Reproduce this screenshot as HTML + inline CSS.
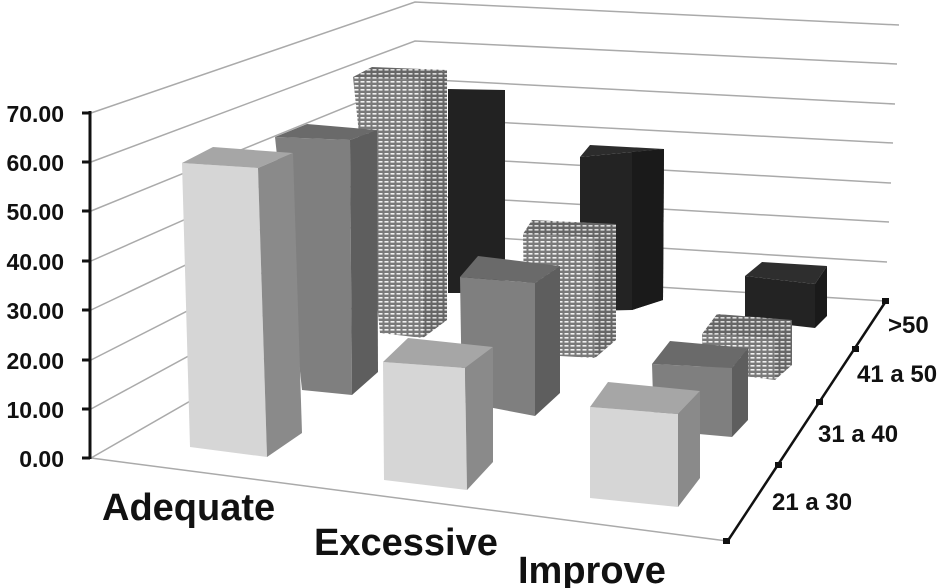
<!DOCTYPE html>
<html><head><meta charset="utf-8"><style>
html,body{margin:0;padding:0;background:#fff;width:943px;height:588px;overflow:hidden}
svg{display:block}
text{font-family:"Liberation Sans",Arial,sans-serif;font-weight:bold;fill:#111}
</style></head><body>
<svg width="943" height="588" viewBox="0 0 943 588" xmlns="http://www.w3.org/2000/svg">
<defs>
<pattern id="pt" width="6" height="4" patternUnits="userSpaceOnUse">
<rect width="6" height="4" fill="#7a7a7a"/><rect x="0.5" y="1" width="4" height="1.6" fill="#f2f2f2"/>
</pattern>
<pattern id="pt2" width="6" height="4" patternUnits="userSpaceOnUse">
<rect width="6" height="4" fill="#666"/><rect x="0.5" y="1" width="4" height="1.6" fill="#ddd"/>
</pattern>
</defs>
<g stroke="#aaa" stroke-width="1.5" fill="none">
<polyline points="91,458 415,272 885,301"/>
<polyline points="91,409 415,233 887,262"/>
<polyline points="91,360 415,195 889,222"/>
<polyline points="91,310 415,156 891,183"/>
<polyline points="91,261 415,118 893,143"/>
<polyline points="91,211 415,79 895,104"/>
<polyline points="91,162 415,41 897,64"/>
<polyline points="91,113 415,2 899,25"/>
<line x1="91" y1="458" x2="727" y2="541"/>
</g>
<!-- >50 row -->
<g>
<polygon points="448,89 505,90 505,293 448,293" fill="#222"/>
<polygon points="580,157 632,152 664,149 663,300 632,310 590,311 580,310" fill="#232323"/>
<polygon points="580,157 590,145 664,149 632,152" fill="#2c2c2c"/>
<polygon points="632,152 664,149 663,300 632,310" fill="#1a1a1a"/>
<polygon points="745,276 815,284 815,328 745,320" fill="#232323"/>
<polygon points="745,276 762,262 827,266 815,284" fill="#2e2e2e"/>
<polygon points="815,284 827,266 827,316 815,328" fill="#1a1a1a"/>
</g>
<!-- 41-50 row -->
<g>
<polygon points="353,77 422,80 423,338 380,333" fill="url(#pt)"/>
<polygon points="353,77 372,67 447,70 422,80" fill="url(#pt2)"/>
<polygon points="422,80 447,70 447,320 423,338" fill="url(#pt2)"/>
<polygon points="523,234 595,237 595,358 525,354" fill="url(#pt)"/>
<polygon points="523,234 532,220 616,224 595,237" fill="url(#pt2)"/>
<polygon points="595,237 616,224 616,340 595,358" fill="url(#pt2)"/>
<polygon points="702,334 775,338 775,380 703,371" fill="url(#pt)"/>
<polygon points="702,334 717,314 792,320 775,338" fill="url(#pt2)"/>
<polygon points="775,338 792,320 792,365 775,380" fill="url(#pt2)"/>
</g>
<!-- 31-40 row -->
<g>
<polygon points="275,137 350,140 352,395 302,390" fill="#7f7f7f"/>
<polygon points="275,137 307,124 377,130 350,140" fill="#6a6a6a"/>
<polygon points="350,140 377,130 378,372 352,395" fill="#5e5e5e"/>
<polygon points="460,277 535,283 535,416 462,402" fill="#7f7f7f"/>
<polygon points="460,277 478,256 560,266 535,283" fill="#6a6a6a"/>
<polygon points="535,283 560,266 560,393 535,416" fill="#5e5e5e"/>
<polygon points="652,364 732,368 732,437 654,430" fill="#7f7f7f"/>
<polygon points="652,364 670,341 748,348 732,368" fill="#6a6a6a"/>
<polygon points="732,368 748,348 748,420 732,437" fill="#5e5e5e"/>
</g>
<!-- 21-30 row -->
<g>
<polygon points="182,163 258,168 267,457 190,447" fill="#d6d6d6"/>
<polygon points="182,163 213,147 293,153 258,168" fill="#a6a6a6"/>
<polygon points="258,168 293,153 302,433 267,457" fill="#8a8a8a"/>
<polygon points="383,362 465,368 467,490 384,480" fill="#d6d6d6"/>
<polygon points="383,362 408,338 493,347 465,368" fill="#a6a6a6"/>
<polygon points="465,368 493,347 493,462 467,490" fill="#8a8a8a"/>
<polygon points="590,407 678,414 678,507 590,498" fill="#d6d6d6"/>
<polygon points="590,407 608,382 700,391 678,414" fill="#a6a6a6"/>
<polygon points="678,414 700,391 700,478 678,507" fill="#8a8a8a"/>
</g>
<!-- axes -->
<g stroke="#111" stroke-width="3">
<line x1="90" y1="111" x2="90" y2="459"/>
<line x1="82" y1="113" x2="90" y2="113"/><line x1="82" y1="162" x2="90" y2="162"/>
<line x1="82" y1="211" x2="90" y2="211"/><line x1="82" y1="261" x2="90" y2="261"/>
<line x1="82" y1="310" x2="90" y2="310"/><line x1="82" y1="360" x2="90" y2="360"/>
<line x1="82" y1="409" x2="90" y2="409"/><line x1="82" y1="458" x2="90" y2="458"/>
<line x1="886" y1="301" x2="727" y2="542" stroke-width="2.5"/>
</g>
<g fill="#111">
<rect x="882" y="298" width="7" height="6"/><rect x="723" y="538" width="7" height="6"/>
<rect x="852" y="346" width="7" height="6"/><rect x="816" y="399" width="7" height="6"/><rect x="775" y="462" width="7" height="6"/>
</g>
<g font-size="23" text-anchor="end">
<text x="64" y="122">70.00</text><text x="64" y="171">60.00</text>
<text x="64" y="220">50.00</text><text x="64" y="270">40.00</text>
<text x="64" y="319">30.00</text><text x="64" y="369">20.00</text>
<text x="64" y="418">10.00</text><text x="64" y="467">0.00</text>
</g>
<g font-size="38">
<text x="102" y="520">Adequate</text>
<text x="314" y="555">Excessive</text>
<text x="518" y="583">Improve</text>
</g>
<g font-size="24">
<text x="888" y="333">&gt;50</text>
<text x="857" y="382">41 a 50</text>
<text x="818" y="442">31 a 40</text>
<text x="772" y="510">21 a 30</text>
</g>
</svg>
</body></html>
